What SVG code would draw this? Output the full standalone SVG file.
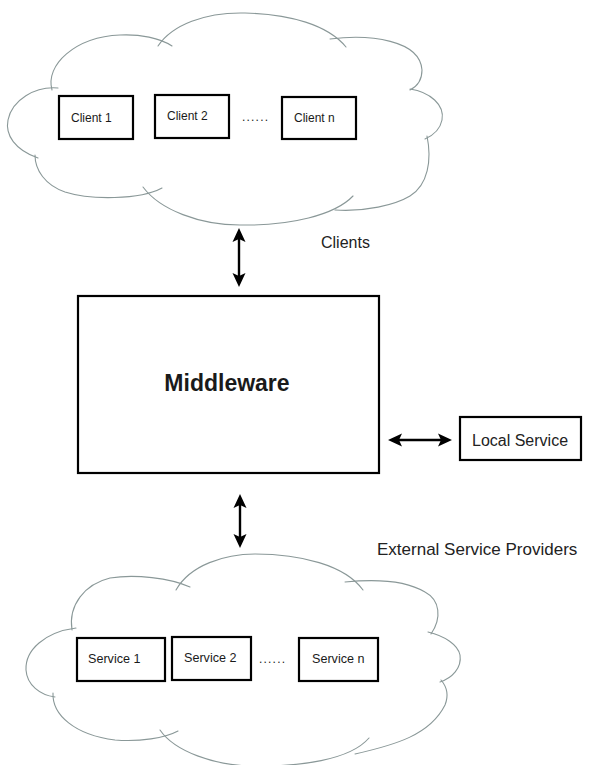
<svg xmlns="http://www.w3.org/2000/svg" width="613" height="765" viewBox="0 0 613 765">
<style>
.cloud{fill:none;stroke:#8a9898;stroke-width:1.1;stroke-linecap:round}
.box{fill:#fff;stroke:#000;stroke-width:2.2}
.t{font-family:"Liberation Sans",Arial,sans-serif;fill:#1a1a1a}
.s{font-size:12px}
.s2{font-size:12.6px}
.m{font-size:16px;fill:#222}
.conn{stroke:#000;stroke-width:2.4;fill:none;marker-start:url(#ah);marker-end:url(#ah)}
</style>
<defs>
<marker id="ah" markerUnits="userSpaceOnUse" markerWidth="16" markerHeight="14" refX="11" refY="7" orient="auto-start-reverse">
<path d="M1,0.5 L15,7 L1,13.5 L4,7 z" fill="#000"/>
</marker>
</defs>
<rect width="613" height="765" fill="#fff"/>
<g id="clients-cloud">
<path class="cloud" d="M52,90 C45,65 75,37 120,35 C140,34 160,38 172,46"/>
<path class="cloud" d="M158,46 C172,25 205,12 245,13 C290,14 328,25 346,47"/>
<path class="cloud" d="M330,39 C370,34 420,40 422,70 C422,80 418,86 410,90"/>
<path class="cloud" d="M410,89 C430,92 445,105 442,120 C440,130 434,135 425,139"/>
<path class="cloud" d="M427,136 C432,160 428,185 410,196 C395,205 365,212 335,210"/>
<path class="cloud" d="M143,187 C160,210 200,225 240,225 C290,226 335,215 353,196"/>
<path class="cloud" d="M162,188 C140,200 90,200 65,192 C45,185 35,170 35,155"/>
<path class="cloud" d="M38,158 C15,150 5,135 8,120 C12,100 35,86 58,88"/>
<text class="t m" x="321" y="248">Clients</text>
</g>
<g id="client1"><rect class="box" x="59" y="96" width="74" height="43"/><text class="t s" x="71" y="122">Client 1</text></g>
<g id="client2"><rect class="box" x="155" y="95" width="74" height="43"/><text class="t s" x="167" y="120">Client 2</text></g>
<text class="t s" x="242" y="121" textLength="26">......</text>
<g id="clientn"><rect class="box" x="282" y="97" width="74" height="42"/><text class="t s" x="294" y="122">Client n</text></g>
<g id="middleware"><rect class="box" x="78" y="296" width="301" height="177"/><text class="t" x="227" y="391" font-size="23" font-weight="bold" text-anchor="middle" fill="#000">Middleware</text></g>
<g id="local-service"><rect class="box" x="460" y="417" width="121" height="43"/><text class="t m" x="472" y="446">Local Service</text></g>
<g id="services-cloud">
<path class="cloud" d="M176,590 C190,565 225,554 255,554 C300,554 345,565 363,590"/>
<path class="cloud" d="M190,587 C170,578 135,574 110,578 C85,584 68,605 72,630"/>
<path class="cloud" d="M76,628 C45,632 25,650 26,670 C27,685 40,695 55,697"/>
<path class="cloud" d="M53,693 C52,715 75,735 115,740 C140,742 165,738 178,731"/>
<path class="cloud" d="M160,730 C175,752 215,765 250,766 C300,767 350,760 369,738"/>
<path class="cloud" d="M355,754 C395,745 430,735 445,705 C449,695 447,687 441,680"/>
<path class="cloud" d="M440,682 C452,678 462,668 460,655 C458,645 445,636 428,632"/>
<path class="cloud" d="M431,634 C442,618 440,600 425,592 C410,583 385,578 345,582"/>
<text class="t m" x="377" y="555" font-size="17" style="font-size:17px">External Service Providers</text>
</g>
<g id="service1"><rect class="box" x="77" y="638" width="88" height="43"/><text class="t s2" x="88" y="663">Service 1</text></g>
<g id="service2"><rect class="box" x="172" y="637" width="79" height="43"/><text class="t s2" x="184" y="662">Service 2</text></g>
<text class="t s" x="259" y="663" textLength="26">......</text>
<g id="servicen"><rect class="box" x="299" y="638" width="79" height="43"/><text class="t s2" x="312" y="663">Service n</text></g>
<g id="connectors">
<line class="conn" x1="239" y1="232" x2="239" y2="283"/>
<line class="conn" x1="392" y1="440" x2="448" y2="440"/>
<line class="conn" x1="240" y1="498" x2="240" y2="544"/>
</g>
</svg>
